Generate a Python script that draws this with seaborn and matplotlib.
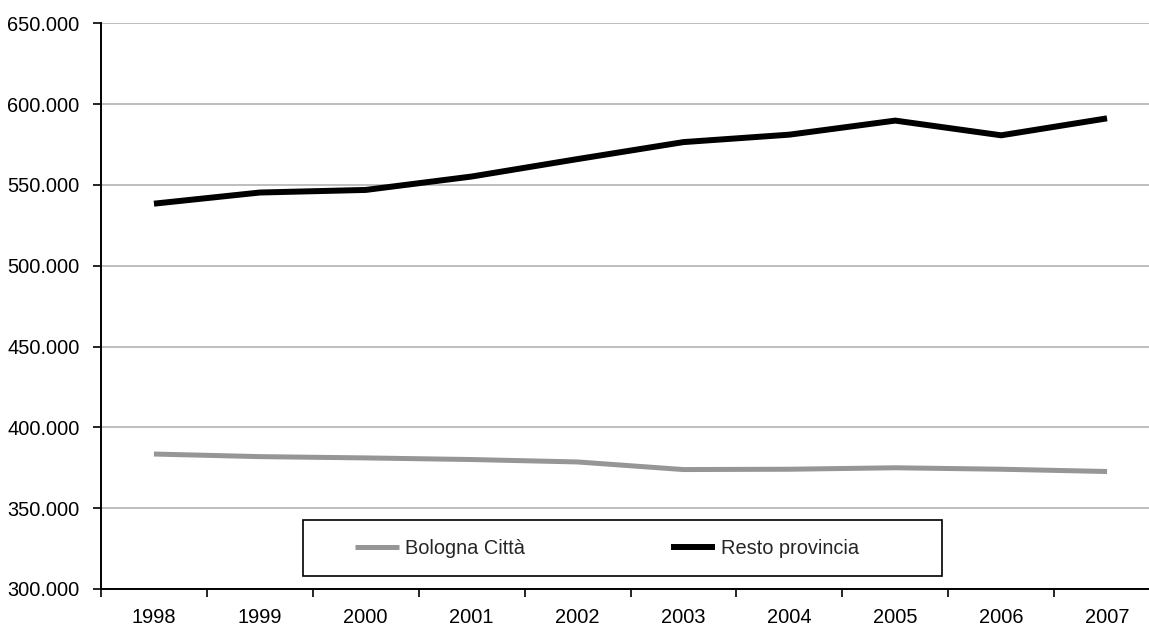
import matplotlib
matplotlib.use("Agg")
import matplotlib.pyplot as plt
import pandas as pd
import seaborn as sns
from matplotlib.patches import Rectangle
from matplotlib.ticker import FuncFormatter, FixedLocator

# Popolazione residente, Bologna città vs resto della provincia
anni = ["1998", "1999", "2000", "2001", "2002", "2003", "2004", "2005", "2006", "2007"]
bologna_citta = [383500, 381900, 381100, 380100, 378600, 373900, 374100, 375000, 374100, 372700]
resto_provincia = [538400, 545300, 546900, 555200, 566000, 576500, 581100, 589800, 580700, 591200]

grigio = "#969696"
nero = "#000000"

W, H = 1149, 628

sns.set_style("white")
plt.rcParams["font.family"] = ["Liberation Sans", "DejaVu Sans"]

fig = plt.figure(figsize=(W / 100, H / 100), dpi=100)
# plot area runs past the right edge of the picture, like the original
ax = fig.add_axes([101 / W, 1 - 589 / H, 1059 / W, (589 - 23.3) / H])

sns.lineplot(x=anni, y=bologna_citta, color=grigio, linewidth=3.6,
             label="Bologna Città", ax=ax, solid_capstyle="butt")
sns.lineplot(x=anni, y=resto_provincia, color=nero, linewidth=4.3,
             label="Resto provincia", ax=ax, solid_capstyle="butt")

ax.set_xlim(-0.5, len(anni) - 0.5)
ax.set_ylim(300000, 650000)
ax.set_yticks(range(300000, 650001, 50000))
ax.yaxis.set_major_formatter(FuncFormatter(lambda v, p: f"{v:,.0f}".replace(",", ".")))
ax.set_xlabel("")
ax.set_ylabel("")

ax.grid(axis="y", color="#b3b3b3", linewidth=1.2)
ax.grid(axis="x", visible=False)
ax.set_axisbelow(True)

for s in ["top", "right"]:
    ax.spines[s].set_visible(False)
for s in ["left", "bottom"]:
    ax.spines[s].set_color("black")
    ax.spines[s].set_linewidth(1.4)

ax.tick_params(axis="y", left=True, direction="out", length=6, width=1.2,
               pad=9.4, labelsize=14.4, colors="black")
ax.tick_params(axis="x", which="major", bottom=True, length=0, pad=14,
               labelsize=14.4, colors="black")
ax.xaxis.set_minor_locator(FixedLocator([i - 0.5 for i in range(len(anni) + 1)]))
ax.tick_params(axis="x", which="minor", bottom=True, direction="out",
               length=6, width=1.2, color="black")

leg = ax.legend(loc="center left", bbox_to_anchor=(355 / W, 1 - 548 / H),
                bbox_transform=fig.transFigure, ncol=2, frameon=False,
                fontsize=14.4, handlelength=2.2, handletextpad=0.3,
                columnspacing=7.3, borderpad=0, borderaxespad=0)

fig.add_artist(Rectangle((303 / W, 1 - 576 / H), 639 / W, 56 / H,
                         transform=fig.transFigure, facecolor="none",
                         edgecolor="black", linewidth=1.2, zorder=5))

fig.savefig("out.png", dpi=100)
